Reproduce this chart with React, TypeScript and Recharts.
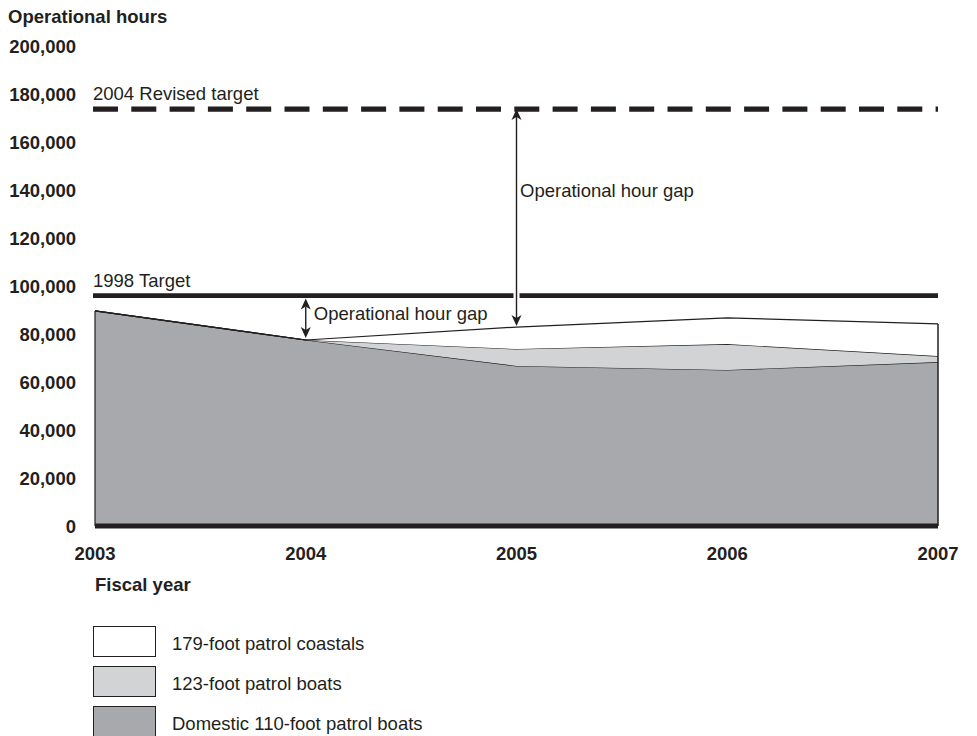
import { AreaChart, Area, XAxis, YAxis, ReferenceLine } from 'recharts'

const years = ['2003', '2004', '2005', '2006', '2007']
const domestic110 = [89600, 77500, 66700, 65000, 68300]
const patrol123 = [0, 0, 7050, 10800, 2500]
const coastal179 = [0, 0, 9150, 10900, 13400]
const yTicks = [0, 20000, 40000, 60000, 80000, 100000, 120000, 140000, 160000, 180000, 200000]
const target1998 = 96000
const target2004 = 173700

const legendItems = [
  { label: '179-foot patrol coastals', fill: '#ffffff' },
  { label: '123-foot patrol boats', fill: '#d1d3d4' },
  { label: 'Domestic 110-foot patrol boats', fill: '#a7a9ac' },
]

const ink = '#231f20'
const font = '"Liberation Sans", Arial, Helvetica, sans-serif'
const fs = 18.5

const data = years.map((year, i) => ({
  year,
  domestic110: domestic110[i],
  patrol123: patrol123[i],
  coastal179: coastal179[i],
}))

const totals = years.map((_, i) => domestic110[i] + patrol123[i] + coastal179[i])

function TargetLine(props: any, text: string, dashed: boolean) {
  const { x1, y1, x2 } = props
  return (
    <g>
      <line
        x1={x1 - 2}
        x2={x2}
        y1={y1}
        y2={y1}
        stroke={ink}
        strokeWidth={dashed ? 5.3 : 4.8}
        strokeDasharray={dashed ? '25 13.3' : undefined}
      />
      <text x={x1 - 2} y={y1 - 9} fontSize={fs} fill={ink} fontFamily={font}>
        {text}
      </text>
    </g>
  )
}

function GapArrow(
  props: any,
  v1: number,
  v2: number,
  textValue: number,
  dx: number,
  insetTop: number,
  insetBottom: number,
) {
  const { x1, y1, y2 } = props
  const x = x1
  const top = Math.min(y1, y2) + insetTop
  const bottom = Math.max(y1, y2) - insetBottom
  const ty = y1 + ((textValue - v1) / (v2 - v1)) * (y2 - y1)
  const h = 11
  const w = 5
  return (
    <g>
      <line x1={x} x2={x} y1={top + h} y2={bottom - h} stroke="#ffffff" strokeWidth={6} />
      <line x1={x} x2={x} y1={top + h - 3} y2={bottom - h + 3} stroke={ink} strokeWidth={1.4} />
      <path d={`M${x},${top} L${x + w},${top + h} L${x},${top + h - 3} L${x - w},${top + h} Z`} fill={ink} />
      <path
        d={`M${x},${bottom} L${x + w},${bottom - h} L${x},${bottom - h + 3} L${x - w},${bottom - h} Z`}
        fill={ink}
      />
      <text x={x + dx} y={ty} fontSize={fs} fill={ink} fontFamily={font}>
        Operational hour gap
      </text>
    </g>
  )
}

export default function App() {
  return (
    <div style={{ position: 'absolute', left: 0, top: 0, width: 977, height: 736, fontFamily: font, color: ink, background: '#fff' }}>
      <AreaChart
        width={977}
        height={736}
        data={data}
        margin={{ top: 46, right: 39, bottom: 180, left: 0 }}
        style={{ position: 'absolute', left: 0, top: 0 }}
      >
        <XAxis
          dataKey="year"
          height={30}
          tickSize={0}
          tickMargin={21}
          tickLine={false}
          axisLine={{ stroke: ink, strokeWidth: 5 }}
          tick={{ fontSize: fs, fontWeight: 700, fill: ink }}
          interval={0}
        />
        <YAxis
          width={95}
          domain={[0, 200000]}
          ticks={yTicks}
          tickSize={0}
          tickMargin={19}
          tickLine={false}
          axisLine={false}
          tick={{ fontSize: fs, fontWeight: 700, fill: ink }}
          tickFormatter={(v: number) => v.toLocaleString('en-US')}
          interval={0}
        />
        <Area
          type="linear"
          dataKey="domestic110"
          stackId="1"
          stroke={ink}
          strokeWidth={1.2}
          fill="#a7a9ac"
          fillOpacity={1}
          dot={false}
          activeDot={false}
          isAnimationActive={false}
        />
        <Area
          type="linear"
          dataKey="patrol123"
          stackId="1"
          stroke={ink}
          strokeWidth={1.2}
          fill="#d1d3d4"
          fillOpacity={1}
          dot={false}
          activeDot={false}
          isAnimationActive={false}
        />
        <Area
          type="linear"
          dataKey="coastal179"
          stackId="1"
          stroke={ink}
          strokeWidth={1.2}
          fill="#ffffff"
          fillOpacity={1}
          dot={false}
          activeDot={false}
          isAnimationActive={false}
        />
        <ReferenceLine
          segment={[
            { x: years[0], y: 0 },
            { x: years[0], y: totals[0] },
          ]}
          stroke={ink}
          strokeWidth={1.2}
        />
        <ReferenceLine
          segment={[
            { x: years[4], y: 0 },
            { x: years[4], y: totals[4] },
          ]}
          stroke={ink}
          strokeWidth={1.5}
        />
        <ReferenceLine y={target2004} shape={(p: any) => TargetLine(p, '2004 Revised target', true)} />
        <ReferenceLine y={target1998} shape={(p: any) => TargetLine(p, '1998 Target', false)} />
        <ReferenceLine
          segment={[
            { x: years[1], y: target1998 },
            { x: years[1], y: totals[1] },
          ]}
          shape={(p: any) => GapArrow(p, target1998, totals[1], 85800, 8, 3, 2)}
        />
        <ReferenceLine
          segment={[
            { x: years[2], y: target2004 },
            { x: years[2], y: totals[2] },
          ]}
          shape={(p: any) => GapArrow(p, target2004, totals[2], 137000, 3.5, 0, 1)}
        />
      </AreaChart>

      <div style={{ position: 'absolute', left: 8, top: 7, fontSize: fs, fontWeight: 700, lineHeight: '20px' }}>
        Operational hours
      </div>
      <div style={{ position: 'absolute', left: 95, top: 575, fontSize: fs, fontWeight: 700, lineHeight: '20px' }}>
        Fiscal year
      </div>

      {legendItems.map((item, i) => (
        <div
          key={item.label}
          style={{ position: 'absolute', left: 93, top: 625 + i * 40, display: 'flex', alignItems: 'center', height: 32 }}
        >
          <div
            style={{
              width: 61,
              height: 29,
              background: item.fill,
              border: `1.5px solid ${ink}`,
            }}
          />
          <div style={{ marginLeft: 16, fontSize: fs, lineHeight: '20px', paddingTop: 5 }}>{item.label}</div>
        </div>
      ))}
    </div>
  )
}
